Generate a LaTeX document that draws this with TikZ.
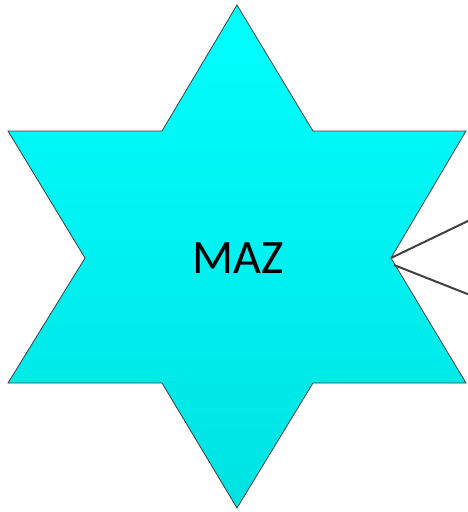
\documentclass[tikz,border=0pt]{standalone}
\usepackage{fontspec}
\setmainfont{Carlito}
\usepackage{tikz}
\usetikzlibrary{arrows.meta,positioning,calc}
\definecolor{startop}{RGB}{0,255,255}
\definecolor{starbot}{RGB}{0,226,226}
\definecolor{edgegray}{RGB}{64,64,64}

\begin{document}
\begin{tikzpicture}[x=1pt, y=-1pt,
    starfill/.style={draw=edgegray, line width=0.8pt, line join=miter, top color=startop, bottom color=starbot},
    starshadow/.style={fill=black!12, draw=none},
    link/.style={draw=edgegray, line width=2pt}]
\useasboundingbox (0,0) rectangle (467,512);
% star corners
\coordinate (top) at (237,5);
\coordinate (ir) at (313,131);
\coordinate (or) at (466,131);
\coordinate (mr) at (391,258);
\coordinate (lr) at (466,383);
\coordinate (br) at (313,383);
\coordinate (bot) at (237,508);
\coordinate (bl) at (162,383);
\coordinate (ll) at (8,383);
\coordinate (ml) at (85,258);
\coordinate (ol) at (8,131);
\coordinate (il) at (162,131);
% shadow
\fill[starshadow, shift={(5,5)}] (top) -- (ir) -- (or) -- (mr) -- (lr) -- (br) -- (bot) -- (bl) -- (ll) -- (ml) -- (ol) -- (il) -- cycle;
\path[starfill] (top) -- (ir) -- (or) -- (mr) -- (lr) -- (br) -- (bot) -- (bl) -- (ll) -- (ml) -- (ol) -- (il) -- cycle;
\node[font=\fontsize{48}{58}\selectfont] (maz) at (238,258) {MAZ};
% links
\coordinate (upend) at (470,220);
\coordinate (lowend) at (470,295);
\coordinate (mr2) at (394,265);
\draw[link] (mr) -- (upend);
\draw[link] (mr2) -- (lowend);
\end{tikzpicture}
\end{document}
